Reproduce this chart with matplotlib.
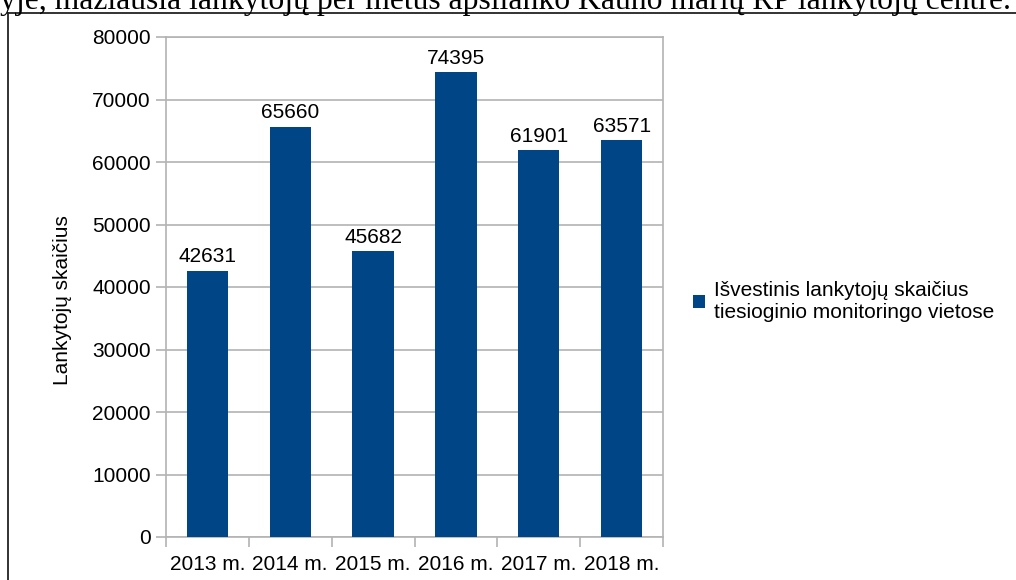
"""Lankytojų skaičius tiesioginio monitoringo vietose, 2013-2018 m."""
import matplotlib

matplotlib.use("Agg")
from matplotlib import pyplot as plt
from matplotlib.lines import Line2D
import numpy as np

years = ["2013 m.", "2014 m.", "2015 m.", "2016 m.", "2017 m.", "2018 m."]
visitors = [42631, 65660, 45682, 74395, 61901, 63571]
series_name = "Išvestinis lankytojų skaičius\ntiesioginio monitoringo vietose"
ylabel = "Lankytojų skaičius"
top_text = "yje, mažiausia lankytojų per metus apsilanko Kauno marių RP lankytojų centre."

BLUE, GRID, INK = "#004586", "#b3b3b3", "#000000"
plt.rcParams["font.family"] = ["Liberation Sans", "DejaVu Sans"]

W, H = 1016, 580
fig = plt.figure(figsize=(W / 100, H / 100), dpi=100, facecolor="white")
ax = fig.add_axes([166 / W, 1 - 537 / H, (663 - 166) / W, 500 / H])

x = np.arange(len(years))
bars = ax.bar(x, visitors, width=0.5, color=BLUE, label=series_name, zorder=3)
ax.bar_label(bars, labels=[str(v) for v in visitors], padding=3, fontsize=15, color=INK)

ax.set_xlim(-0.5, len(years) - 0.5)
ax.set_ylim(0, 80000)
ax.set_yticks(range(0, 80001, 10000))
ax.yaxis.grid(True, color=GRID, lw=1.2, zorder=0)
ax.set_xticks(np.arange(-0.5, len(years)), labels=[""] * (len(years) + 1))
ax.set_xticks(x, labels=years, minor=True)
ax.tick_params(axis="x", which="major", length=7, width=1.2, color=GRID, direction="out")
ax.tick_params(axis="x", which="minor", length=0, labelsize=15, labelcolor=INK, pad=13)
ax.tick_params(axis="y", length=7, width=1.2, color=GRID, labelsize=15, labelcolor=INK, pad=4)
for s in ax.spines.values():
    s.set_color(GRID)
    s.set_linewidth(1.2)

ax.set_ylabel(ylabel, fontsize=15, color=INK)
ax.yaxis.set_label_coords(-0.19, 0.474)

ax.legend(loc="center left", bbox_to_anchor=(674 / W, 1 - 301 / H),
          bbox_transform=fig.transFigure, frameon=False, fontsize=15,
          handlelength=0.6, handleheight=0.6, handletextpad=0.4, labelspacing=0.1)

# page frame and cut-off document line above the chart
fig.add_artist(Line2D([8 / W, 1], [1 - 13 / H, 1 - 13 / H], color="#222222", lw=1.3))
fig.add_artist(Line2D([8 / W, 8 / W], [0, 1 - 13 / H], color="#222222", lw=1.3))
fig.text(0, 1 - 9 / H, top_text, family=["Liberation Serif", "DejaVu Serif"],
         fontsize=22.8, va="baseline", ha="left", color=INK)

fig.savefig("out.png", dpi=100, facecolor="white")
